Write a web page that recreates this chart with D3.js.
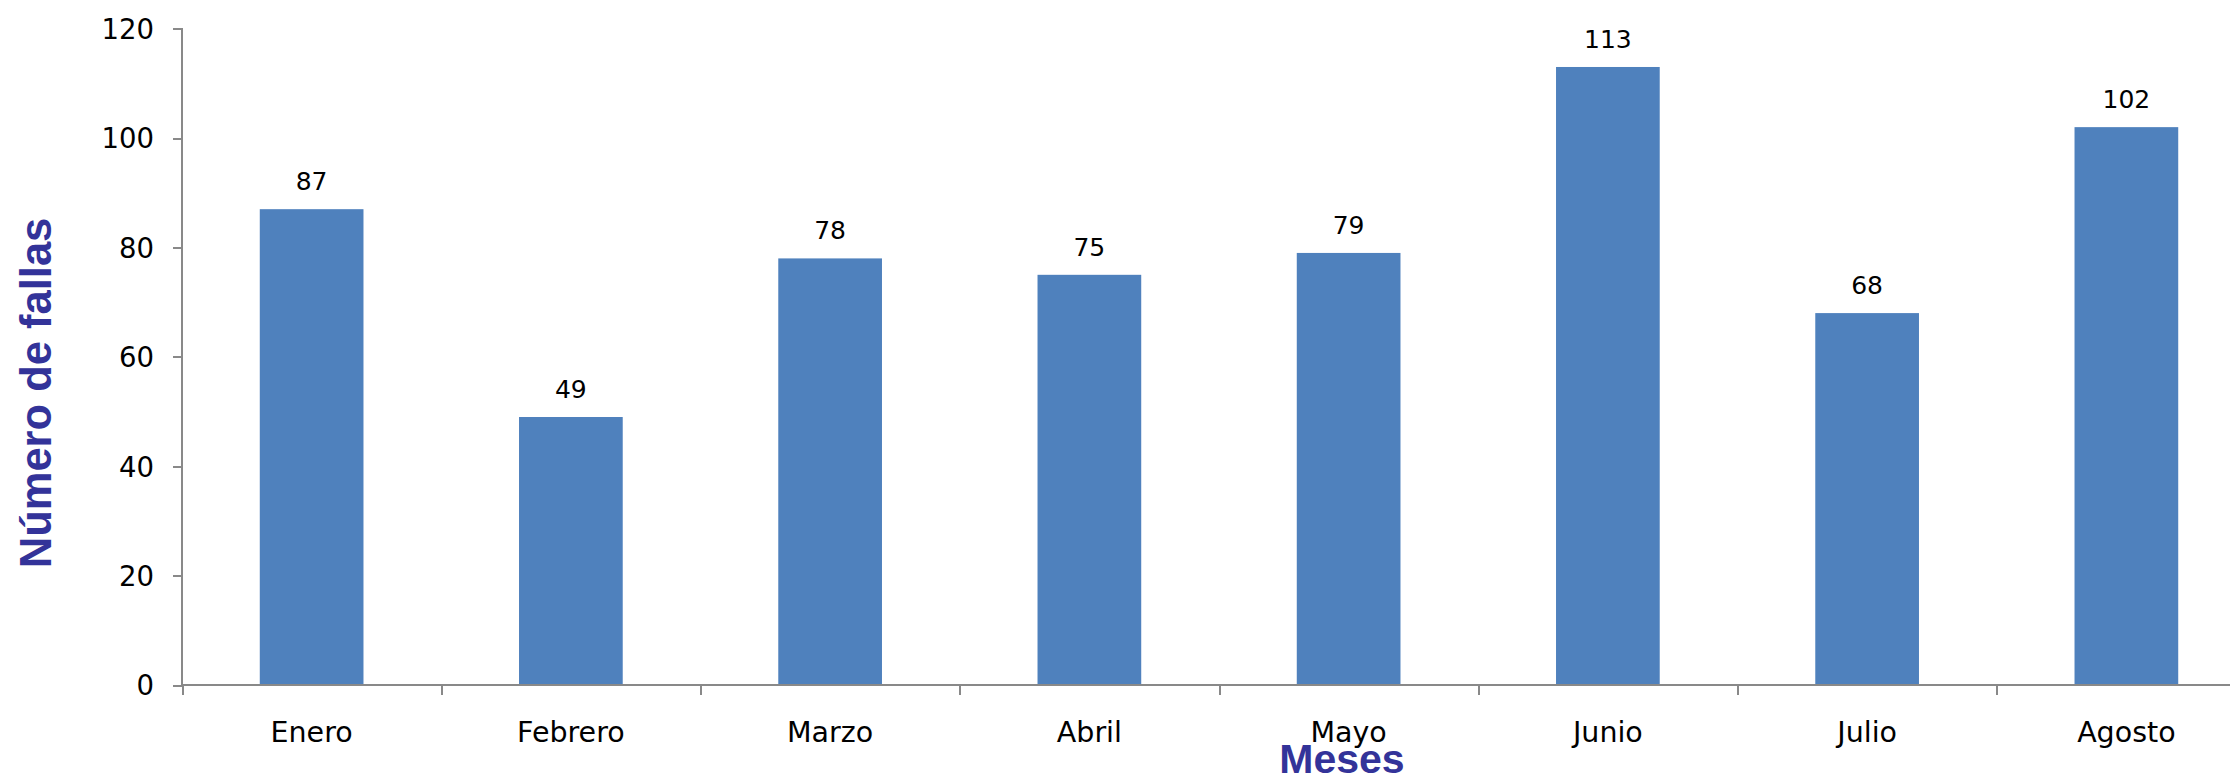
<!DOCTYPE html>
<html>
<head>
<meta charset="utf-8">
<script src="https://cdn.jsdelivr.net/npm/d3@7"></script>
<style>
  html, body { margin: 0; padding: 0; background: #fff; }
  svg { display: block; }
  .axis path, .axis line { stroke: #898989; stroke-width: 2; shape-rendering: crispEdges; }
  .axis text { font-family: "DejaVu Sans", Verdana, sans-serif; fill: #000; }
</style>
</head>
<body>
<div id="chart"></div>
<script>
// datos
const meses = ["Enero", "Febrero", "Marzo", "Abril", "Mayo", "Junio", "Julio", "Agosto"];
const fallas = [87, 49, 78, 75, 79, 113, 68, 102];
const yTicks = [0, 20, 40, 60, 80, 100, 120];

const width = 2230, height = 774;
// el area del grafico se sale un poco por la derecha, como en la imagen original
const plotLeft = 182, plotRight = 2256, plotTop = 28.7, plotBottom = 685;

const svg = d3.select("#chart").append("svg")
  .attr("width", width)
  .attr("height", height);

const x = d3.scaleBand()
  .domain(meses)
  .range([plotLeft, plotRight])
  .paddingInner(0.6)
  .paddingOuter(0.3);

const y = d3.scaleLinear()
  .domain([0, 120])
  .range([plotBottom, plotTop]);

// escala auxiliar para las marcas entre categorias
const xb = d3.scaleLinear().domain([0, meses.length]).range([plotLeft, plotRight]);

// barras
svg.selectAll("rect.bar")
  .data(meses)
  .join("rect")
  .attr("class", "bar")
  .attr("x", d => x(d))
  .attr("width", x.bandwidth())
  .attr("y", (d, i) => y(fallas[i]))
  .attr("height", (d, i) => y(0) - y(fallas[i]))
  .attr("fill", "#4F81BD");

// etiquetas de valor
svg.selectAll("text.val")
  .data(meses)
  .join("text")
  .attr("class", "val")
  .attr("x", d => x(d) + x.bandwidth() / 2)
  .attr("y", (d, i) => y(fallas[i]) - 19)
  .attr("text-anchor", "middle")
  .attr("font-family", "DejaVu Sans, Verdana, sans-serif")
  .attr("font-size", 25)
  .attr("fill", "#000")
  .text((d, i) => fallas[i]);

// eje Y
const gy = svg.append("g")
  .attr("class", "axis")
  .attr("transform", `translate(${plotLeft},0)`)
  .call(d3.axisLeft(y).tickValues(yTicks).tickSize(9).tickPadding(19).tickFormat(d3.format("d")));
gy.select(".domain").attr("d", `M0,${plotBottom}V${plotTop}H-9`);
gy.selectAll("text").attr("font-size", 27.5).attr("dy", "0.36em");

// eje X: marcas entre categorias
const gx = svg.append("g")
  .attr("class", "axis")
  .attr("transform", `translate(0,${plotBottom})`)
  .call(d3.axisBottom(xb).tickValues(d3.range(meses.length + 1)).tickSize(10).tickFormat(""));
gx.select(".domain").attr("d", `M${plotLeft},0H${plotRight}`);

// etiquetas de meses
svg.selectAll("text.mes")
  .data(meses)
  .join("text")
  .attr("class", "mes")
  .attr("x", d => x(d) + x.bandwidth() / 2)
  .attr("y", 742)
  .attr("text-anchor", "middle")
  .attr("font-family", "DejaVu Sans, Verdana, sans-serif")
  .attr("font-size", 28.5)
  .attr("fill", "#000")
  .text(d => d);

// titulos de ejes
svg.append("text")
  .attr("x", 1342)
  .attr("y", 773)
  .attr("text-anchor", "middle")
  .attr("font-family", "Liberation Sans, Arial, sans-serif")
  .attr("font-weight", "bold")
  .attr("font-size", 41)
  .attr("fill", "#333399")
  .text("Meses");

svg.append("text")
  .attr("transform", "translate(51,393) rotate(-90)")
  .attr("text-anchor", "middle")
  .attr("font-family", "Liberation Sans, Arial, sans-serif")
  .attr("font-weight", "bold")
  .attr("font-size", 43.5)
  .attr("fill", "#333399")
  .text("Número de fallas");
</script>
</body>
</html>
